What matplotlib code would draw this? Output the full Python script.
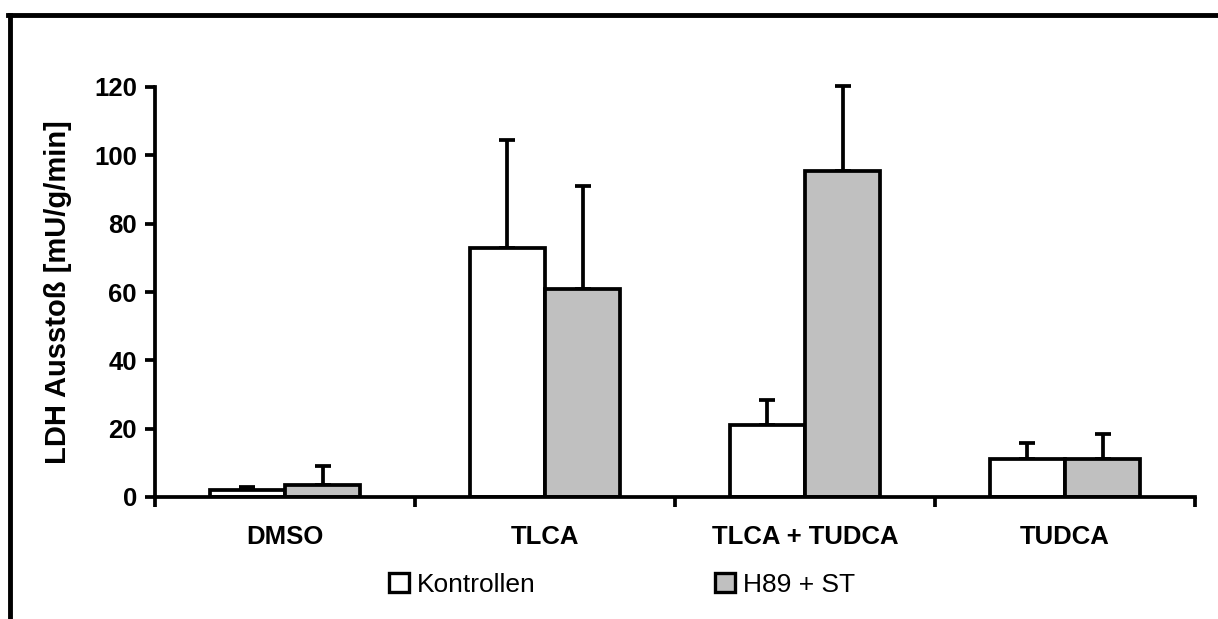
import numpy as np
import matplotlib.pyplot as plt
from matplotlib.lines import Line2D
from matplotlib.patches import Patch

categories = ["DMSO", "TLCA", "TLCA + TUDCA", "TUDCA"]
kontrollen = [2.0, 73.0, 21.0, 11.0]
kontrollen_err = [1.0, 31.5, 7.5, 4.8]
h89_st = [3.5, 61.0, 95.3, 11.0]
h89_st_err = [5.6, 30.0, 25.0, 7.5]
yticks = [0, 20, 40, 60, 80, 100, 120]

plt.rcParams['font.family'] = ['Liberation Sans', 'DejaVu Sans']

fig = plt.figure(figsize=(12.18, 6.19), dpi=100)
ax = fig.add_axes([155 / 1218, 1 - 497 / 619, 1040 / 1218, 410 / 619])

x = np.arange(len(categories))
w = 0.29
lw = 2.7
ax.bar(x - w / 2, kontrollen, w, color='white', edgecolor='black', linewidth=lw, zorder=2)
ax.bar(x + w / 2, h89_st, w, color='#c0c0c0', edgecolor='black', linewidth=lw, zorder=2)
for xs, vals, errs in [(x - w / 2, kontrollen, kontrollen_err), (x + w / 2, h89_st, h89_st_err)]:
    eb = ax.errorbar(xs, vals, yerr=[np.zeros(4), errs], fmt='none',
                     ecolor='black', elinewidth=lw, capsize=5.8, capthick=lw, zorder=1)
    for art in eb.lines[1] + eb.lines[2]:
        art.set_clip_on(False)

ax.set_xlim(-0.5, 3.5)
ax.set_ylim(0, 120)
ax.set_yticks(yticks)
ax.set_yticklabels([str(v) for v in yticks], fontsize=18.5, fontweight='bold')
ax.set_xticks(x)
ax.set_xticklabels(categories, fontsize=18.5, fontweight='bold')
ax.tick_params(axis='x', which='major', length=0, pad=20)
ax.set_xticks(np.arange(-0.5, 4, 1), minor=True)
ax.tick_params(axis='x', which='minor', length=7, width=lw, direction='out')
ax.tick_params(axis='y', length=7, width=lw, pad=6)
for s in ['top', 'right']:
    ax.spines[s].set_visible(False)
for s in ['left', 'bottom']:
    ax.spines[s].set_linewidth(lw)
ax.spines['bottom'].set_zorder(3)

ax.set_ylabel("LDH Ausstoß [mU/g/min]", fontsize=21, fontweight='bold', labelpad=16)

handles = [Patch(facecolor='white', edgecolor='black', linewidth=2.4, label='Kontrollen'),
           Patch(facecolor='#c0c0c0', edgecolor='black', linewidth=2.4, label='H89 + ST')]
fig.legend(handles=handles, loc='center', bbox_to_anchor=(622 / 1218, 1 - 585 / 619), ncol=2,
           frameon=False, fontsize=19, handlelength=0.75, handleheight=0.75,
           handletextpad=0.3, columnspacing=6.8, borderpad=0, borderaxespad=0)

# outer frame (cropped at right and bottom)
fig.add_artist(Line2D([10 / 1218, 10 / 1218], [0, 1 - 15 / 619], color='black', linewidth=3.5,
                      transform=fig.transFigure))
fig.add_artist(Line2D([8 / 1218, 1], [1 - 15 / 619, 1 - 15 / 619], color='black', linewidth=3.5,
                      transform=fig.transFigure))

fig.savefig("out.png", dpi=100)
